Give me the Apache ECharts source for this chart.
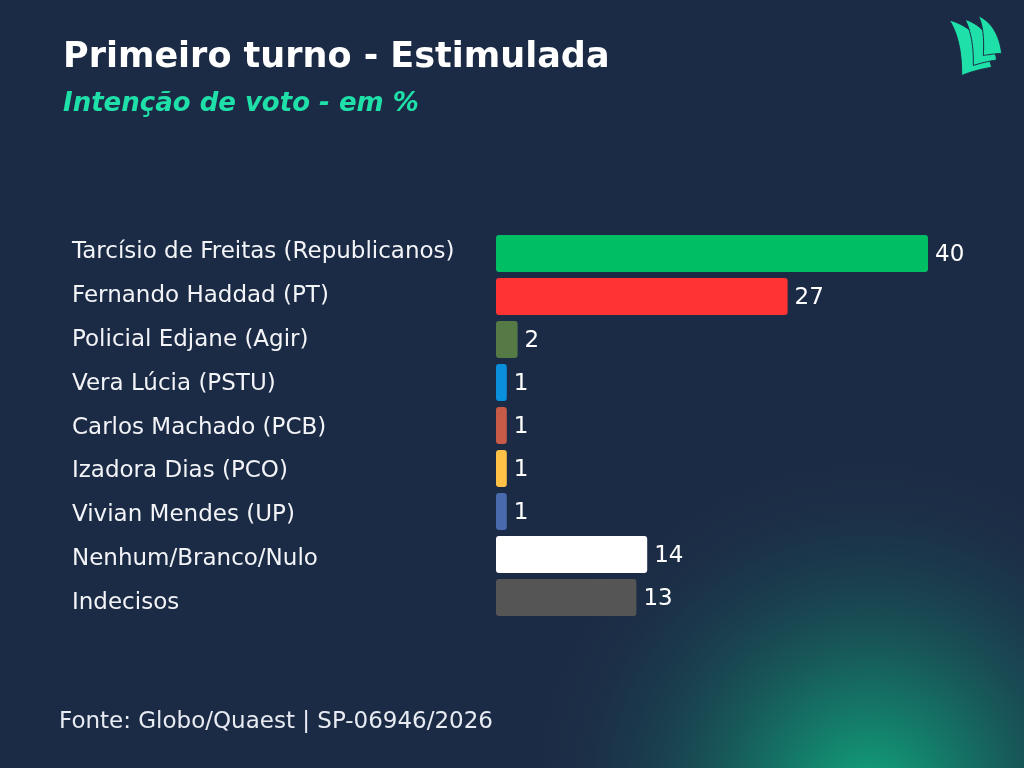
<!DOCTYPE html>
<html>
<head>
<meta charset="utf-8">
<script src="https://cdn.jsdelivr.net/npm/echarts@6/dist/echarts.min.js"></script>
<style>
html,body{margin:0;padding:0;background:#1c2b45;}
#chart{width:1024px;height:768px;}
</style>
</head>
<body>
<div id="chart"></div>
<script>
const categories = [
  'Tarcísio de Freitas (Republicanos)',
  'Fernando Haddad (PT)',
  'Policial Edjane (Agir)',
  'Vera Lúcia (PSTU)',
  'Carlos Machado (PCB)',
  'Izadora Dias (PCO)',
  'Vivian Mendes (UP)',
  'Nenhum/Branco/Nulo',
  'Indecisos'
];
const values = [40, 27, 2, 1, 1, 1, 1, 14, 13];
const barColors = ['#00be64', '#ff3333', '#557a46', '#0a8fdd', '#c85a48', '#ffc246', '#4a6aae', '#ffffff', '#555555'];
const titleText = 'Primeiro turno - Estimulada';
const subtitleText = 'Intenção de voto - em %';
const sourceText = 'Fonte: Globo/Quaest | SP-06946/2026';

const FONT = '"DejaVu Sans", "Noto Sans", sans-serif';
const chart = echarts.init(document.getElementById('chart'));
const bg = '#1c2b45';

// logo outline helper: segments of [type, ...points] in page pixels
function outline(segs) {
  const pts = [];
  let cur = null;
  segs.forEach(s => {
    if (s[0] === 'M' || s[0] === 'L') { cur = [s[1], s[2]]; pts.push(cur); }
    else if (s[0] === 'Q') {
      const p0 = cur, c = [s[1], s[2]], p1 = [s[3], s[4]];
      for (let k = 1; k <= 16; k++) {
        const t = k / 16, u = 1 - t;
        pts.push([u*u*p0[0] + 2*u*t*c[0] + t*t*p1[0], u*u*p0[1] + 2*u*t*c[1] + t*t*p1[1]]);
      }
      cur = p1;
    }
  });
  return pts;
}
const sailFront = outline([['M',949.3,20],['Q',982,29,991.7,67.3],['Q',975,70,961.7,75.5],['Q',962,40,949.3,20]]);
const sailMid = outline([['M',965,19.3],['Q',991,28,996.7,60],['Q',984,62,973.3,65.5],['Q',974,37,965,19.3]]);
const sailBack = outline([['M',978.3,15.7],['Q',998,25,1001.7,53.3],['Q',992,54,983.3,55.5],['Q',985,29,978.3,15.7]]);

// small per-row vertical nudge of the name labels (text layout, not data)
const labelRich = {};
categories.forEach((c, i) => {
  const shift = -1.5 + 0.9 * i;
  labelRich['r' + i] = {
    color: '#f2f4f7', fontSize: 23, fontFamily: FONT,
    padding: shift >= 0 ? [2 * shift, 0, 0, 0] : [0, 0, -2 * shift, 0]
  };
});

chart.setOption({
  backgroundColor: bg,
  animation: false,
  graphic: [
    {
      type: 'rect', z: -10, silent: true,
      shape: { x: 0, y: 0, width: 1024, height: 768 },
      style: {
        fill: {
          type: 'radial', x: 0.85, y: 1.04, r: 0.46,
          colorStops: [
            { offset: 0, color: 'rgba(16,175,128,0.95)' },
            { offset: 0.35, color: 'rgba(16,160,122,0.5)' },
            { offset: 1, color: 'rgba(28,43,69,0)' }
          ]
        }
      }
    },
    { type: 'polygon', shape: { points: sailFront }, style: { fill: '#1ee0a8', stroke: bg, lineWidth: 1 } },
    { type: 'polygon', shape: { points: sailMid }, style: { fill: '#1ee0a8', stroke: bg, lineWidth: 1 } },
    { type: 'polygon', shape: { points: sailBack }, style: { fill: '#1ee0a8', stroke: bg, lineWidth: 1 } },
    {
      type: 'text', left: 63, top: 40,
      style: { text: titleText, fill: '#ffffff', font: 'bold 35px ' + FONT }
    },
    {
      type: 'text', left: 63, top: 91,
      style: { text: subtitleText, fill: '#1ee0a8', font: 'italic bold 26px ' + FONT }
    },
    {
      type: 'text', left: 59, top: 711,
      style: { text: sourceText, fill: '#e8ecf2', font: '23px ' + FONT }
    }
  ],
  grid: { left: 496, right: 96, top: 232, bottom: 149, containLabel: false },
  xAxis: {
    type: 'value', min: 0, max: 40, show: false
  },
  yAxis: {
    type: 'category', data: categories, inverse: true,
    axisLine: { show: false }, axisTick: { show: false }, splitLine: { show: false },
    axisLabel: {
      align: 'left', margin: 424, color: '#f2f4f7',
      fontSize: 23, fontFamily: FONT,
      formatter: (v, i) => '{r' + i + '|' + v + '}',
      rich: labelRich
    }
  },
  series: [{
    type: 'bar',
    data: values.map((v, i) => ({ value: v, itemStyle: { color: barColors[i] } })),
    barWidth: 37,
    itemStyle: { borderRadius: 3 },
    label: {
      show: true, position: 'right', distance: 7, offset: [0, 2],
      color: '#ffffff', fontSize: 23, fontFamily: FONT
    }
  }]
});
</script>
</body>
</html>
